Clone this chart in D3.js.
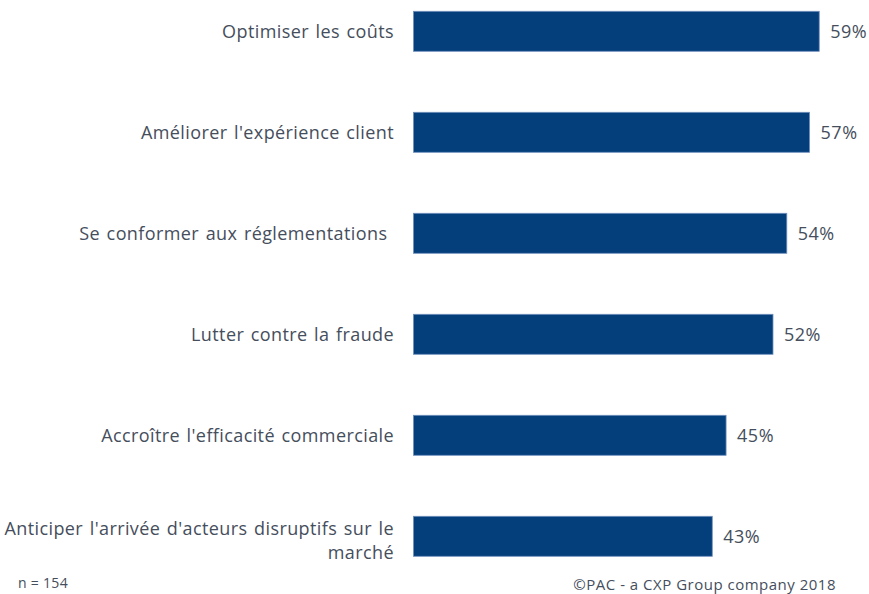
<!DOCTYPE html>
<html>
<head>
<meta charset="utf-8">
<script src="https://cdn.jsdelivr.net/npm/d3@7"></script>
<style>
  body { margin: 0; background: #fff; }
  svg text { font-family: "Open Sans", "DejaVu Sans", sans-serif; fill: #454e5c; white-space: pre; }
</style>
</head>
<body>
<svg id="chart" width="869" height="594"></svg>
<script>
// data
const categories = [
  "Optimiser les coûts",
  "Améliorer l'expérience client",
  "Se conformer aux réglementations ",
  "Lutter contre la fraude",
  "Accroître l'efficacité commerciale",
  "Anticiper l'arrivée d'acteurs disruptifs sur le marché"
];
const shares = [58.8, 57.4, 54.1, 52.1, 45.3, 43.3];
const sampleNote = "n = 154";
const sourceNote = "©PAC - a CXP Group company 2018";

const svg = d3.select("#chart");

const x = d3.scaleLinear().domain([0, 100]).range([413.5, 1103.5]);
const y = d3.scaleBand().domain(categories)
  .range([-19.2, 586.8])
  .paddingInner(0.604)
  .paddingOuter(0.302);

const rows = categories.map((c, i) => ({ label: c, value: shares[i] }));

// bars
svg.append("g").selectAll("rect")
  .data(rows)
  .enter().append("rect")
  .attr("x", x(0))
  .attr("y", (d) => y(d.label))
  .attr("width", (d) => x(d.value) - x(0))
  .attr("height", y.bandwidth())
  .attr("fill", "#043f7c")
  .attr("stroke", "#6f8fbd")
  .attr("stroke-width", 0.8);

// value labels
svg.append("g").selectAll("text")
  .data(rows)
  .enter().append("text")
  .attr("x", (d) => x(d.value) + 11)
  .attr("y", (d) => y(d.label) + y.bandwidth() / 2)
  .attr("dy", "0.35em")
  .style("font-size", "18px")
  .style("letter-spacing", "0.5px")
  .text((d) => Math.round(d.value) + "%");

// category labels (wrapped when too long)
function wrapLabel(s) {
  if (s.length < 40) return [s];
  const cut = s.lastIndexOf(" ");
  return [s.slice(0, cut), s.slice(cut + 1)];
}

const catLabels = svg.append("g").selectAll("text")
  .data(rows)
  .enter().append("text")
  .attr("text-anchor", "end")
  .style("font-size", "18px")
  .style("letter-spacing", "0.4px")
  .style("word-spacing", "1.5px")
  .attr("x", 394)
  .attr("y", (d) => y(d.label) + y.bandwidth() / 2);

catLabels.each(function (d) {
  const lines = wrapLabel(d.label);
  const t = d3.select(this);
  const lh = 24;
  lines.forEach((line, i) => {
    t.append("tspan")
      .attr("x", 394)
      .attr("dy", i === 0 ? (0.35 * 18 - (lines.length - 1) * lh / 2 + (lines.length > 1 ? 4 : 0)) : lh)
      .text(line);
  });
});

// footer notes
svg.append("text")
  .attr("x", 18).attr("y", 588)
  .style("font-size", "14px")
  .style("letter-spacing", "0.3px")
  .text(sampleNote);

svg.append("text")
  .attr("x", 836).attr("y", 590)
  .attr("text-anchor", "end")
  .style("font-size", "15px")
  .style("letter-spacing", "0.5px")
  .text(sourceNote);
</script>
</body>
</html>
